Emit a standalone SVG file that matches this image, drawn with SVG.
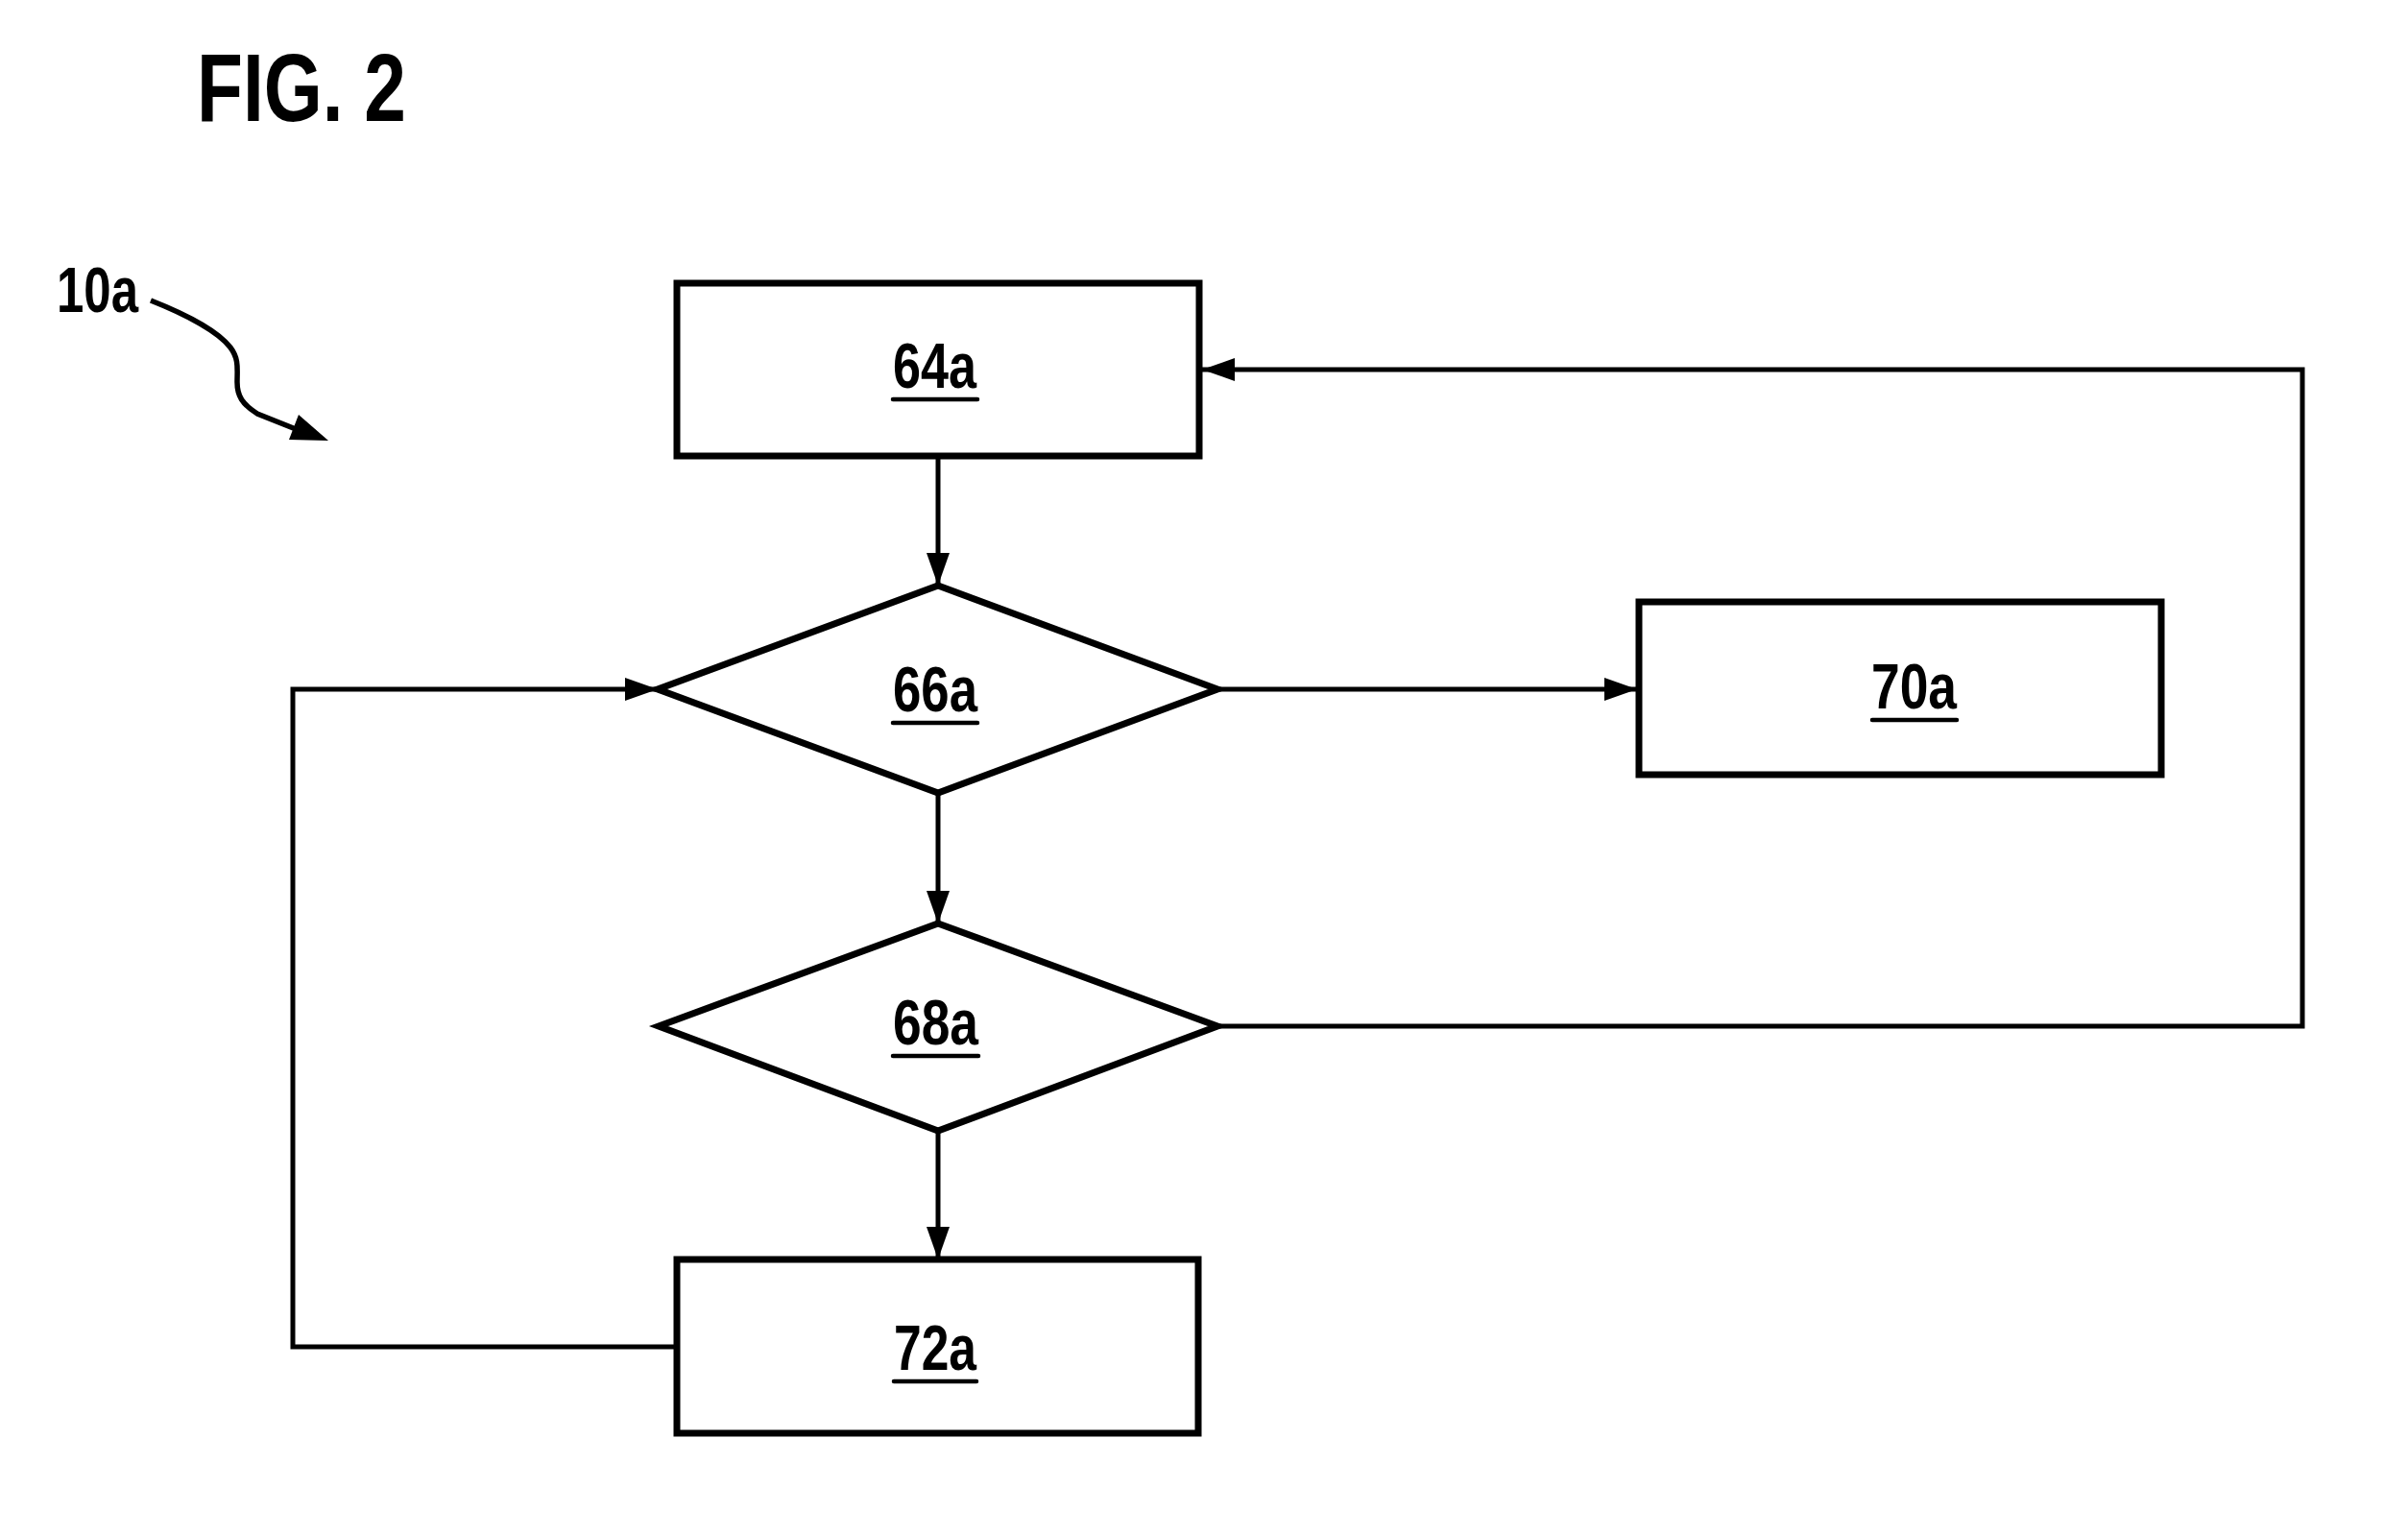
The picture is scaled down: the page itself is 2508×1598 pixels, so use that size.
<svg xmlns="http://www.w3.org/2000/svg" width="2508" height="1598" viewBox="0 0 2508 1598">
<style>
.node{fill:#fff;stroke:#000;stroke-width:7;stroke-linejoin:miter}
.lbl{font-family:"Liberation Sans",Arial,sans-serif;font-weight:bold;font-size:66px;fill:#000}
.ul{stroke:#000;stroke-width:4.5;stroke-linecap:round}
.conn{fill:none;stroke:#000;stroke-width:5}
</style>
<defs>
<marker id="ah" markerUnits="userSpaceOnUse" markerWidth="34" markerHeight="24" viewBox="0 0 34 24" refX="34" refY="12" orient="auto">
<path d="M0,0 L34,12 L0,24 z" fill="#000"/>
</marker>
</defs>
<rect width="2508" height="1598" fill="#fff"/>
<text x="205" y="126" font-family="Liberation Sans,Arial,sans-serif" font-weight="bold" font-size="100" textLength="218" lengthAdjust="spacingAndGlyphs">FIG. 2</text>
<g id="ref10a">
<text class="lbl" x="59" y="325" textLength="85" lengthAdjust="spacingAndGlyphs">10a</text>
<path d="M157,313 C195,328 228,346 240,362 C249,374 247,384 247,398 C247,412 252,421 268,431 L308,447" fill="none" stroke="#000" stroke-width="5.5"/>
<polygon points="342,459 311,432 301,458" fill="#000"/>
</g>
<g id="connectors">
<line class="conn" x1="977" y1="475" x2="977" y2="610" marker-end="url(#ah)"/>
<line class="conn" x1="977" y1="826" x2="977" y2="962" marker-end="url(#ah)"/>
<line class="conn" x1="977" y1="1178" x2="977" y2="1312" marker-end="url(#ah)"/>
<line class="conn" x1="1268" y1="718" x2="1705" y2="718" marker-end="url(#ah)"/>
<polyline class="conn" points="1268,1069 2398,1069 2398,385 1252,385" marker-end="url(#ah)"/>
<polyline class="conn" points="705,1403 305,1403 305,718 685,718" marker-end="url(#ah)"/>
</g>
<g id="n64a">
<rect class="node" x="705" y="295" width="544" height="180"/>
<text class="lbl" x="930" y="404" textLength="87" lengthAdjust="spacingAndGlyphs">64a</text>
<line class="ul" x1="930" y1="416" x2="1018" y2="416"/>
</g>
<g id="n66a">
<polygon class="node" points="977,610 1268,718 977,826 685,718"/>
<text class="lbl" x="930" y="741" textLength="88" lengthAdjust="spacingAndGlyphs">66a</text>
<line class="ul" x1="930" y1="753" x2="1018" y2="753"/>
</g>
<g id="n68a">
<polygon class="node" points="977,962 1268,1069 977,1178 686,1069"/>
<text class="lbl" x="930" y="1088" textLength="89" lengthAdjust="spacingAndGlyphs">68a</text>
<line class="ul" x1="930" y1="1100" x2="1019" y2="1100"/>
</g>
<g id="n70a">
<rect class="node" x="1707" y="627" width="544" height="180"/>
<text class="lbl" x="1949" y="738" textLength="89" lengthAdjust="spacingAndGlyphs">70a</text>
<line class="ul" x1="1950" y1="750" x2="2038" y2="750"/>
</g>
<g id="n72a">
<rect class="node" x="705" y="1312" width="543" height="181"/>
<text class="lbl" x="931" y="1427" textLength="86" lengthAdjust="spacingAndGlyphs">72a</text>
<line class="ul" x1="931" y1="1439" x2="1017" y2="1439"/>
</g>
</svg>
